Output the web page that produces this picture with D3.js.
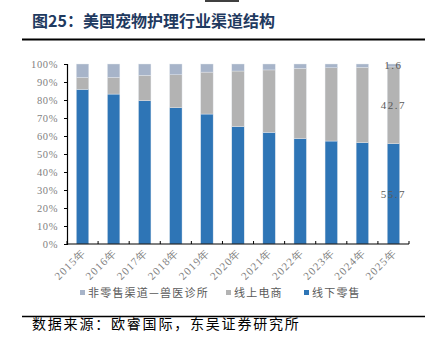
<!DOCTYPE html>
<html>
<head>
<meta charset="utf-8">
<script src="https://cdn.jsdelivr.net/npm/d3@7/dist/d3.min.js"></script>
<style>
  html, body { margin: 0; padding: 0; background: #fff; }
  svg { display: block; }
</style>
</head>
<body>
<svg id="chart" width="439" height="349"></svg>
<script>
// Channel structure of US pet care, share of sales (%)
const years = ["2015年","2016年","2017年","2018年","2019年","2020年","2021年","2022年","2023年","2024年","2025年"];
const offline = [85.9, 83.3, 79.6, 75.7, 72.2, 65.2, 62.0, 58.5, 57.2, 56.3, 55.7];
const online  = [6.6, 9.3, 14.1, 18.3, 23.3, 30.9, 34.7, 39.1, 40.7, 41.9, 42.7];
const vet     = [7.5, 7.4, 6.3, 6.0, 4.5, 3.9, 3.3, 2.4, 2.1, 1.8, 1.6];
const yTicks  = [0, 10, 20, 30, 40, 50, 60, 70, 80, 90, 100];

const seriesNames = ["线下零售", "线上电商", "非零售渠道—兽医诊所"];
const seriesKeys  = ["offline", "online", "vet"];
const colors = { offline: "#2E75B6", online: "#B3B3B3", vet: "#A7B4C9" };

const rows = years.map((y, i) => ({ year: y, offline: offline[i], online: online[i], vet: vet[i] }));

const svg = d3.select("#chart");
const margin = { left: 67, right: 409, top: 64, bottom: 244 };

const x = d3.scaleBand().domain(years).range([margin.left, margin.right])
  .paddingInner(0.6).paddingOuter(0.3);
const y = d3.scaleLinear().domain([0, 100]).range([margin.bottom, margin.top]);

// header
svg.append("line").attr("x1", 205).attr("x2", 239).attr("y1", 1).attr("y2", 1)
  .attr("stroke", "#000").attr("stroke-width", 1.5);
svg.append("text").attr("x", 32).attr("y", 27)
  .attr("font-family", "'Noto Sans CJK SC'").attr("font-weight", "bold")
  .attr("font-size", 16).attr("fill", "#1F3A60")
  .text("图25：美国宠物护理行业渠道结构");
svg.append("line").attr("x1", 22).attr("x2", 425).attr("y1", 39.5).attr("y2", 39.5)
  .attr("stroke", "#000").attr("stroke-width", 2);

// stacked bars
const stack = d3.stack().keys(seriesKeys);
const layers = stack(rows);
svg.append("g").selectAll("g").data(layers).join("g")
  .attr("fill", d => colors[d.key])
  .selectAll("rect").data(d => d).join("rect")
  .attr("x", d => x(d.data.year))
  .attr("width", x.bandwidth())
  .attr("y", d => y(d[1]))
  .attr("height", d => y(d[0]) - y(d[1]))
  .attr("stroke", "#E6EAF0").attr("stroke-width", 0.4);

// y axis
const yAxis = d3.axisLeft(y).tickValues(yTicks).tickSize(3).tickPadding(6)
  .tickFormat(d => d + "%");
const gy = svg.append("g").attr("transform", `translate(${margin.left},0)`).call(yAxis);
gy.select(".domain").attr("stroke", "#000").attr("stroke-width", 1.2);
gy.selectAll(".tick line").attr("stroke", "#000");
gy.selectAll("text").attr("font-family", "'Liberation Serif'").attr("font-size", 10.5)
  .attr("fill", "#7F7F7F").attr("letter-spacing", "0.6px");

// x axis: baseline with inward ticks on band boundaries
const gx = svg.append("g");
gx.append("line").attr("x1", margin.left).attr("x2", margin.right)
  .attr("y1", y(0)).attr("y2", y(0)).attr("stroke", "#000").attr("stroke-width", 1.2);
const step = x.step();
const boundaries = d3.range(years.length + 1).map(i => x(years[0]) - step * x.paddingOuter() + i * step);
gx.selectAll("line.tk").data(boundaries).join("line").attr("class", "tk")
  .attr("x1", d => d).attr("x2", d => d)
  .attr("y1", y(0)).attr("y2", y(0) - 3).attr("stroke", "#000");
gx.selectAll("text").data(years).join("text")
  .attr("transform", d => `translate(${x(d) + x.bandwidth() / 2 + 4},${y(0) + 9}) rotate(-45)`)
  .attr("text-anchor", "end")
  .attr("font-family", "'Liberation Serif'").attr("font-size", 11)
  .attr("fill", "#7F7F7F").attr("letter-spacing", "1.2px")
  .text(d => d);

// value labels on the final year
const last = rows[rows.length - 1];
const lastLayers = layers.map(l => ({ key: l.key, seg: l[l.length - 1] }));
svg.append("g").selectAll("text").data(lastLayers).join("text")
  .attr("x", x(last.year) + x.bandwidth() / 2)
  .attr("y", d => y((d.seg[0] + d.seg[1]) / 2) + 4)
  .attr("text-anchor", "middle")
  .attr("font-family", "'Liberation Serif'").attr("font-size", 11)
  .attr("fill", "#595959").attr("letter-spacing", "1.5px")
  .text(d => last[d.key].toFixed(1));

// legend
const legendItems = [
  { key: "vet", label: seriesNames[2], x: 80 },
  { key: "online", label: seriesNames[1], x: 226 },
  { key: "offline", label: seriesNames[0], x: 304 }
];
const lg = svg.append("g").selectAll("g").data(legendItems).join("g")
  .attr("transform", d => `translate(${d.x},293)`);
lg.append("rect").attr("x", 0).attr("y", -3).attr("width", 5).attr("height", 5)
  .attr("fill", d => colors[d.key]);
lg.append("text").attr("x", 8).attr("y", 4)
  .attr("font-family", "'Noto Sans CJK SC'").attr("font-size", 11)
  .attr("fill", "#595959").attr("letter-spacing", "1.2px")
  .text(d => d.label);

// footer
svg.append("line").attr("x1", 22).attr("x2", 425).attr("y1", 316.5).attr("y2", 316.5)
  .attr("stroke", "#000").attr("stroke-width", 1.5);
svg.append("text").attr("x", 32).attr("y", 329)
  .attr("font-family", "'Noto Sans CJK SC'").attr("font-size", 14)
  .attr("fill", "#000").attr("letter-spacing", "1.8px")
  .text("数据来源：欧睿国际，东吴证券研究所");
</script>
</body>
</html>
